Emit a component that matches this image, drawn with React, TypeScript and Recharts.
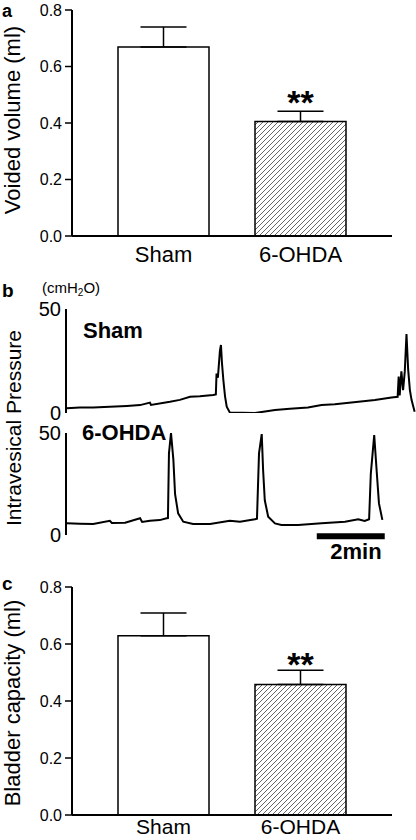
import React from 'react';
import {
  BarChart, Bar, XAxis, YAxis, Cell, ErrorBar, ReferenceDot,
  LineChart, Line, ReferenceLine,
} from 'recharts';

// ---------- data ----------
const GROUPS = ['Sham', '6-OHDA'];
const SIGNIF = ['', '**'];

const VOIDED_MEAN = [0.669, 0.405];
const VOIDED_SEM = [0.071, 0.037];

const CAPACITY_MEAN = [0.629, 0.458];
const CAPACITY_SEM = [0.080, 0.050];

const VOLUME_TICKS = [0, 0.2, 0.4, 0.6, 0.8];
const PRESSURE_TICKS = [0, 50];

// time in minutes, pressure in cmH2O
const SHAM_TIME = [
  0.02, 0.41, 0.8, 1.29, 1.79, 2.18, 2.47, 2.5, 3.06, 3.35, 3.65, 3.94, 4.33, 4.41,
  4.43, 4.47, 4.53, 4.56, 4.59, 4.63, 4.68, 4.73, 4.82, 5.56, 6.15, 6.59, 7.12, 7.52,
  7.91, 8.4, 9.09, 9.58, 9.76, 9.79, 9.82, 9.87, 9.92, 9.97, 10.02, 10.07, 10.12, 10.17, 10.26,
];
const SHAM_PRESSURE = [
  2.3, 2.6, 2.7, 3.0, 3.4, 3.8, 5.0, 3.9, 5.4, 6.3, 7.8, 8.0, 8.7, 8.9,
  19, 17, 30, 32.7, 24, 16, 8, 3, 0.3, 0, 1.4, 2.0, 2.7, 3.8,
  4.2, 5.0, 6.2, 7.5, 7.8, 17.5, 8.5, 20, 11, 20, 38, 20.7, 11, 6.2, 0.6,
];

const OHDA_TIME = [
  0.02, 0.41, 0.8, 1.29, 1.35, 1.74, 2.18, 2.24, 2.47, 2.76, 2.96, 3.0, 3.03, 3.09,
  3.16, 3.21, 3.3, 3.45, 3.74, 4.24, 4.82, 5.12, 5.56, 5.62, 5.68, 5.76, 5.8, 5.85,
  5.95, 6.15, 6.34, 6.83, 7.52, 8.21, 8.6, 8.79, 8.92, 8.97, 9.07, 9.14, 9.21, 9.31,
];
const OHDA_PRESSURE = [
  5.7, 5.5, 5.4, 7.0, 5.9, 6.0, 8.2, 6.4, 7.0, 7.3, 8.2, 8.3, 40, 50,
  36.8, 20, 10.6, 6.5, 5.4, 5.4, 7.0, 6.5, 7.7, 8, 40, 49.5, 32, 17,
  9, 5.7, 4.9, 4.9, 5.7, 6.5, 7.7, 6.9, 7.7, 30, 49, 32, 15.5, 7.4,
];

const SCALE_BAR_START = 7.38; // min
const SCALE_BAR_LENGTH = 2; // min
const SCALE_BAR_LEVEL = -0.6; // cmH2O
const TIME_DOMAIN = [0, 10.3];

// ---------- styling ----------
const FONT = '"Liberation Sans", Arial, Helvetica, sans-serif';

function BarPanel({ means, sems, patternId, height, xAxisHeight, tickGap, tickFont, starDy }) {
  const data = GROUPS.map((g, i) => ({
    group: g,
    mean: means[i],
    err: [0, sems[i]],
    top: means[i] + sems[i],
    sig: SIGNIF[i],
  }));
  return (
    <BarChart width={416} height={height} data={data} margin={{ top: 10, right: 24, bottom: 0, left: 0 }}>
      <defs>
        <pattern id={patternId} patternUnits="userSpaceOnUse" width={5} height={5}>
          <rect width={5} height={5} fill="#fff" />
          <path d="M-1,1 l2,-2 M0,5 l5,-5 M4,6 l2,-2" stroke="#555" strokeWidth={0.9} />
        </pattern>
      </defs>
      <XAxis
        dataKey="group"
        type="category"
        interval={0}
        padding={{ left: 23, right: 23 }}
        height={xAxisHeight}
        axisLine={{ stroke: '#000', strokeWidth: 2 }}
        tickLine={false}
        tickSize={0}
        tickMargin={tickGap}
        tick={{ fontSize: tickFont, fill: '#000', fontFamily: FONT }}
      />
      <YAxis
        type="number"
        domain={[0, 0.8]}
        ticks={VOLUME_TICKS}
        allowDataOverflow
        width={72}
        tickFormatter={(v) => v.toFixed(1)}
        axisLine={{ stroke: '#000', strokeWidth: 2 }}
        tickLine={{ stroke: '#000', strokeWidth: 1.5 }}
        tickSize={7}
        tickMargin={3}
        tick={{ fontSize: 16, fill: '#000', fontFamily: FONT }}
      />
      <Bar dataKey="mean" barSize={91} stroke="#000" strokeWidth={1.5} isAnimationActive={false}>
        {data.map((d, i) => (
          <Cell key={i} fill={i === 0 ? '#fff' : `url(#${patternId})`} />
        ))}
        <ErrorBar dataKey="err" direction="y" width={23} stroke="#000" strokeWidth={1.5} isAnimationActive={false} />
      </Bar>
      {data.filter((d) => d.sig).map((d) => (
        <ReferenceDot
          key={d.group}
          x={d.group}
          y={d.top}
          r={0}
          fill="none"
          stroke="none"
          ifOverflow="visible"
          label={(props) => {
            const vb = props.viewBox || {};
            return (
              <text x={vb.x} y={vb.y + starDy} textAnchor="middle" fontFamily={FONT} fontWeight="bold" fontSize={34} fill="#000">
                {d.sig}
              </text>
            );
          }}
        />
      ))}
    </BarChart>
  );
}

function TracePanel({ times, pressures, marginBottom, withScaleBar }) {
  const data = times.map((t, i) => ({ t, p: pressures[i] }));
  return (
    <LineChart width={416} height={140} data={data} margin={{ top: 19, right: 0, bottom: marginBottom, left: 0 }}>
      <XAxis type="number" dataKey="t" domain={TIME_DOMAIN} allowDataOverflow hide />
      <YAxis
        type="number"
        domain={[0, 50]}
        ticks={PRESSURE_TICKS}
        interval={0}
        allowDataOverflow
        width={66}
        tickFormatter={(v) => String(v)}
        axisLine={{ stroke: '#000', strokeWidth: 2 }}
        tickLine={false}
        tickSize={0}
        tickMargin={5}
        tick={{ fontSize: 20, fill: '#000', fontFamily: FONT }}
      />
      <Line type="linear" dataKey="p" stroke="#000" strokeWidth={2} dot={false} isAnimationActive={false} />
      {withScaleBar && (
        <ReferenceLine
          segment={[
            { x: SCALE_BAR_START, y: SCALE_BAR_LEVEL },
            { x: SCALE_BAR_START + SCALE_BAR_LENGTH, y: SCALE_BAR_LEVEL },
          ]}
          stroke="#000"
          strokeWidth={6}
          ifOverflow="visible"
        />
      )}
    </LineChart>
  );
}

export default function App() {
  const bold = { fontFamily: FONT, fontWeight: 'bold', fill: '#000' };
  const reg = { fontFamily: FONT, fill: '#000' };
  return (
    <div style={{ position: 'absolute', left: 0, top: 0, width: 416, height: 840, background: '#fff', overflow: 'hidden' }}>
      <div style={{ position: 'absolute', left: 0, top: 0 }}>
        <BarPanel means={VOIDED_MEAN} sems={VOIDED_SEM} patternId="hatchA" height={270} xAxisHeight={34} tickGap={10} tickFont={22} starDy={3} />
      </div>
      <div style={{ position: 'absolute', left: 0, top: 290 }}>
        <TracePanel times={SHAM_TIME} pressures={SHAM_PRESSURE} marginBottom={17} withScaleBar={false} />
      </div>
      <div style={{ position: 'absolute', left: 0, top: 414 }}>
        <TracePanel times={OHDA_TIME} pressures={OHDA_PRESSURE} marginBottom={19} withScaleBar />
      </div>
      <div style={{ position: 'absolute', left: 0, top: 577 }}>
        <BarPanel means={CAPACITY_MEAN} sems={CAPACITY_SEM} patternId="hatchC" height={263} xAxisHeight={25} tickGap={4} tickFont={21} starDy={6} />
      </div>
      <svg width={416} height={840} style={{ position: 'absolute', left: 0, top: 0, pointerEvents: 'none' }}>
        <text x={2} y={17} fontSize={18} {...bold}>a</text>
        <text x={2} y={297} fontSize={19} {...bold}>b</text>
        <text x={2} y={590} fontSize={19} {...bold}>c</text>
        <text x={20} y={120} fontSize={22} textAnchor="middle" transform="rotate(-90 20 120)" {...reg}>Voided volume (ml)</text>
        <text x={21} y={428} fontSize={21} textAnchor="middle" transform="rotate(-90 21 428)" {...reg}>Intravesical Pressure</text>
        <text x={19.5} y={703} fontSize={22} textAnchor="middle" transform="rotate(-90 19.5 703)" {...reg}>Bladder capacity (ml)</text>
        <text x={42} y={293} fontSize={15} {...reg}>
          <tspan>(cmH</tspan>
          <tspan fontSize={10} dy={3}>2</tspan>
          <tspan dy={-3}>O)</tspan>
        </text>
        <text x={83} y={338} fontSize={22} {...bold}>Sham</text>
        <text x={82} y={440} fontSize={22} {...bold}>6-OHDA</text>
        <text x={356} y={559} fontSize={22} textAnchor="middle" {...bold}>2min</text>
      </svg>
    </div>
  );
}
